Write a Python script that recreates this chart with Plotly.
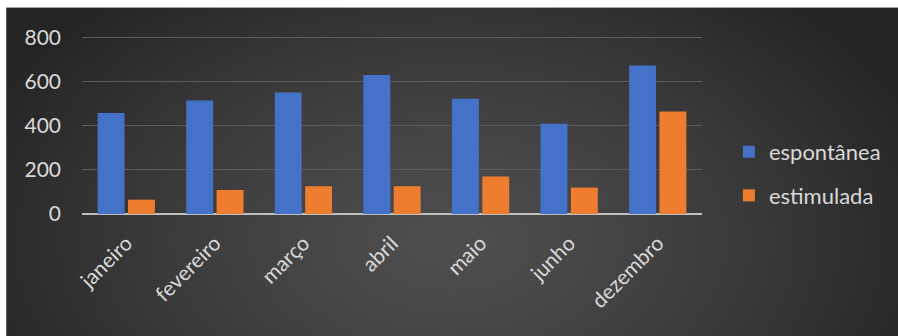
import base64, struct, zlib
import numpy as np
import plotly.graph_objects as go

meses = ["janeiro", "fevereiro", "março", "abril", "maio", "junho", "dezembro"]
espontanea = [458, 515, 551, 630, 523, 409, 674]
estimulada = [65, 109, 126, 126, 170, 120, 465]
y_ticks = [0, 200, 400, 600, 800]

W, H = 898, 336
YMAX = 812
L, R, B = 82, 704, 214
T = B - 176 * YMAX / 800  # keeps 800 at ~38px


def png_data_uri(arr):
    h, w, _ = arr.shape
    raw = b"".join(b"\x00" + arr[i].tobytes() for i in range(h))
    def chunk(tag, data):
        c = struct.pack(">I", len(data)) + tag + data
        return c + struct.pack(">I", zlib.crc32(tag + data) & 0xFFFFFFFF)
    png = b"\x89PNG\r\n\x1a\n" + chunk(b"IHDR", struct.pack(">IIBBBBB", w, h, 8, 2, 0, 0, 0)) \
        + chunk(b"IDAT", zlib.compress(raw, 9)) + chunk(b"IEND", b"")
    return "data:image/png;base64," + base64.b64encode(png).decode()

# radial dark background (extends a little beyond right/bottom edges)
bx0, by0 = 6, 8
bw, bh = W + 12 - bx0, H + 12 - by0
yy, xx = np.mgrid[0:bh, 0:bw].astype(float)
cx, cy = 450 - bx0, 240 - by0
d = np.sqrt(((xx - cx) / 520.0) ** 2 + ((yy - cy) / 330.0) ** 2)
d = np.clip(d, 0, 1)
inner, outer = 78.0, 36.0
v = inner + (outer - inner) * d ** 1.3
img = np.stack([v, v, v], axis=-1).astype(np.uint8)
src = png_data_uri(img)

pw, ph = R - L, B - T

def px_x(x):
    return (x - L) / pw

def px_y(y):
    return (B - y) / ph

font = "Lato, Open Sans, sans-serif"
txt = "#d9d9d9"

fig = go.Figure()
fig.add_trace(go.Bar(x=meses, y=espontanea, name="espontânea",
                     marker=dict(color="#4472c8", line=dict(width=0)), legendgroup="a"))
fig.add_trace(go.Bar(x=meses, y=estimulada, name="estimulada",
                     marker=dict(color="#ee7d2f", line=dict(width=0)), legendgroup="b"))

fig.add_layout_image(dict(source=src, xref="paper", yref="paper",
                          x=px_x(bx0), y=px_y(by0), sizex=bw / pw, sizey=bh / ph,
                          xanchor="left", yanchor="top", sizing="stretch", layer="below"))

fig.update_layout(
    width=W, height=H,
    margin=dict(l=L, r=W - R, t=T, b=H - B, pad=0),
    paper_bgcolor="white", plot_bgcolor="rgba(0,0,0,0)",
    barmode="group", bargap=0.314, bargroupgap=0.115,
    font=dict(family=font, color=txt),
    showlegend=True,
    legend=dict(x=px_x(731), y=px_y(174), xanchor="left", yanchor="middle",
                font=dict(size=22, color=txt), bgcolor="rgba(0,0,0,0)",
                traceorder="grouped", tracegroupgap=12, itemwidth=30),
    xaxis=dict(tickangle=-45, tickfont=dict(size=21, color=txt), showgrid=False,
               showline=False, ticks="", fixedrange=True, ticklabelstandoff=12),
    yaxis=dict(range=[0, YMAX], tickvals=y_ticks, tickfont=dict(size=21, color=txt),
               showgrid=True, gridcolor="#5c5c5c", gridwidth=1,
               zeroline=True, zerolinecolor="#bfbfbf", zerolinewidth=2,
               showline=False, ticks="", ticklabelstandoff=20),
)

fig.write_html("out.html")
